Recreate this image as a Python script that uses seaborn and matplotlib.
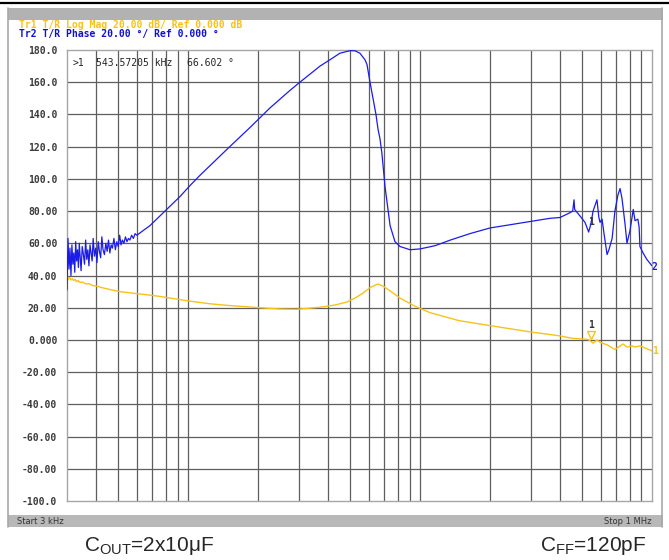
import matplotlib
matplotlib.use("Agg")
import matplotlib.pyplot as plt
import seaborn as sns
import pandas as pd
from matplotlib.patches import Rectangle
from matplotlib.lines import Line2D

# ---- data (frequency in kHz) ----
phase_freq = [3.00, 3.03, 3.06, 3.09, 3.12, 3.15, 3.18, 3.21, 3.24, 3.27,
              3.30, 3.33, 3.36, 3.39, 3.42, 3.45, 3.49, 3.53, 3.57, 3.61,
              3.65, 3.69, 3.73, 3.77, 3.81, 3.85, 3.89, 3.94, 3.99, 4.04,
              4.09, 4.14, 4.19, 4.24, 4.29, 4.35, 4.41, 4.47, 4.53, 4.59,
              4.65, 4.71, 4.78, 4.85, 4.92, 4.99, 5.06, 5.13, 5.20, 5.28,
              5.36, 5.44, 5.52, 5.60, 5.70, 5.80, 5.90, 6.00,
              6.84, 7.55, 8.34, 9.21, 10.2, 11.2, 13.0, 15.1, 18.5,
              22.5, 27.5, 30.3, 33.5, 37.0, 40.9, 45.1, 49.9, 52.4, 55.0,
              57.8, 59.0, 60.8, 62.6, 64.5, 65.8, 67.1, 68.4, 70.6, 72.8,
              74.2, 77.9, 81.9, 90.5, 99.9, 116, 135, 164, 200, 244,
              298, 363, 401, 443, 455, 461, 464, 489, 514, 533,
              545, 557, 579, 590, 597, 609, 621, 640, 652, 673,
              692, 713, 728, 742, 765, 780, 804, 830, 845, 869,
              880, 887, 915, 950, 1000]
phase_deg = [31, 63, 44, 57, 40, 59, 47, 54, 42, 61,
             49, 56, 45, 60, 51, 43, 58, 53, 47, 62,
             50, 56, 46, 59, 54, 49, 63, 52, 57, 48,
             61, 55, 51, 64, 56, 53, 60, 55, 62, 54,
             59, 57, 63, 56, 61, 58, 65, 59, 62, 60,
             64, 61, 63, 62, 65, 63, 66, 65,
             71, 77, 83, 89, 96, 102, 111, 120, 132,
             144, 155, 160, 165, 170, 174, 178, 179.6, 179.5, 178,
             174, 171, 160, 150, 140, 131, 125, 116, 95, 80,
             71, 61, 58, 56, 56.5, 58.5, 62, 66, 69.5, 71.5,
             73.5, 75.5, 76, 79, 80, 87, 81, 77, 73, 67,
             72, 80, 87, 76, 73, 75, 66, 53, 56, 63,
             80, 90, 94, 88, 72, 60, 68, 81, 74, 75,
             70, 58, 54, 50, 46]

mag_freq = [3.00, 3.04, 3.08, 3.12, 3.16, 3.20, 3.25, 3.30, 3.35, 3.40,
            3.50, 3.62, 3.74, 3.86, 4.00, 4.21, 4.44, 4.69, 5.05, 6.84,
            7.55, 9.7, 12.3, 14.6, 20.4, 24.8, 29.3, 37.0, 43.0, 48.5,
            52.4, 56.6, 60.8, 65.7, 69.0, 74.2, 81.9, 94.8, 110, 147,
            192, 298, 401, 453, 514, 533, 557, 579, 597, 640,
            692, 750, 780, 820, 845, 887, 1000]
mag_db = [39.5, 37.5, 38.8, 37.2, 38.0, 36.9, 37.6, 36.2, 36.9, 35.7,
          35.9, 34.8, 34.9, 33.8, 33.5, 32.6, 31.8, 31.0, 30.0, 27.8,
          27.0, 24.5, 22.5, 21.5, 20.0, 19.2, 19.0, 20.3, 21.7, 23.6,
          26.0, 29.0, 32.5, 34.7, 33.5, 30.5, 26.0, 21.0, 17.0, 12.0,
          9.3, 5.0, 2.5, 1.0, 0.5, 0.2, -2.0, 0.0, -1.5, -3.0,
          -6.0, -2.5, -4.4, -3.7, -4.4, -3.7, -6.8]

y_ticks = list(range(180, -101, -20))
y_labels = ["180.0", "160.0", "140.0", "120.0", "100.0", "80.00", "60.00",
            "40.00", "20.00", "0.000", "-20.00", "-40.00", "-60.00",
            "-80.00", "-100.0"]
grid_freq = [4, 5, 6, 7, 8, 9, 10, 20, 30, 40, 50, 60, 70, 80, 90,
             100, 200, 300, 400, 500, 600, 700, 800, 900]

BLUE = "#1c1ce8"
YELLOW = "#f7c21a"
W, H = 669, 560

sns.set_style("white")
plt.rcParams["font.family"] = ["DejaVu Sans"]
plt.rcParams["mathtext.fontset"] = "custom"
plt.rcParams["mathtext.rm"] = "Liberation Sans"

fig = plt.figure(figsize=(W / 100, H / 100), dpi=100)


def px(x, y):
    return x / W, 1 - y / H


# instrument frame decorations
fig.add_artist(Line2D([0, 1], [1 - 2.5 / H] * 2, color="black", lw=1.6))
fig.add_artist(Rectangle(px(8, 20), 655 / W, 12 / H, color="#b2b2b2", lw=0))
fig.add_artist(Rectangle(px(8, 527), 655 / W, 12 / H, color="#b8b8b8", lw=0))
fig.add_artist(Line2D([8 / W] * 2, [1 - 527 / H, 1 - 8 / H], color="#a8a8a8", lw=1.2))
fig.add_artist(Line2D([662 / W] * 2, [1 - 527 / H, 1 - 8 / H], color="#a8a8a8", lw=1.2))

mono = "DejaVu Sans Mono"
fig.text(*px(19, 25), "Tr1 T/R Log Mag 20.00 dB/ Ref 0.000 dB", color=YELLOW,
         family=mono, weight="bold", fontsize=7, va="center")
fig.text(*px(19, 34), "Tr2 T/R Phase 20.00 °/ Ref 0.000 °", color="#1010d0",
         family=mono, weight="bold", fontsize=7, va="center")
fig.text(*px(17, 521), "Start 3 kHz", color="#333333", fontsize=6, va="center")
fig.text(*px(652, 521), "Stop 1 MHz", color="#333333", fontsize=6, va="center", ha="right")

fig.text(*px(84, 546), r"C$_{\mathrm{OUT}}$=2x10μF", family="Liberation Sans",
         fontsize=15, va="center")
fig.text(*px(540, 546), r"C$_{\mathrm{FF}}$=120pF", family="Liberation Sans",
         fontsize=15, va="center")

ax = fig.add_axes([67 / W, 1 - 501 / H, 585 / W, 451 / H])
phase_df = pd.DataFrame({"freq": phase_freq, "phase": phase_deg})
mag_df = pd.DataFrame({"freq": mag_freq, "mag": mag_db})

for f in grid_freq:
    ax.axvline(f, color="#5e5e5e", lw=0.9, zorder=1)
for v in y_ticks[1:-1]:
    ax.axhline(v, color="#5e5e5e", lw=0.9, zorder=1)

sns.lineplot(data=mag_df, x="freq", y="mag", ax=ax, color=YELLOW, lw=1.0,
             sort=False, zorder=3)
sns.lineplot(data=phase_df, x="freq", y="phase", ax=ax, color=BLUE, lw=0.9,
             sort=False, zorder=4)

ax.set_xscale("log")
ax.set_xlim(3, 1000)
ax.set_ylim(-100, 180)
ax.set_xticks([])
ax.set_xticks([], minor=True)
ax.set_yticks(y_ticks)
ax.set_yticklabels(y_labels, family=mono, weight="bold", fontsize=7, color="#3a3a3a")
ax.tick_params(axis="y", length=0, pad=7)
ax.set_xlabel("")
ax.set_ylabel("")
for s in ax.spines.values():
    s.set_color("#a6a6a6")
    s.set_linewidth(1.0)

# marker readout
ax.text(0.009, 0.982, ">1", transform=ax.transAxes, family=mono, fontsize=7, va="top")
ax.text(0.05, 0.982, "543.57205 kHz", transform=ax.transAxes, family=mono, fontsize=7, va="top")
ax.text(0.205, 0.982, "66.602 °", transform=ax.transAxes, family=mono, fontsize=7, va="top")

# trace markers
ax.text(543.57, 70, "1", color="#333333", fontsize=7, weight="bold", ha="center", va="bottom", family=mono)
ax.plot([543.57], [3], marker="v", ms=6, mfc="none", mec=YELLOW, mew=1.0)
ax.text(543.57, 6, "1", color="#333333", fontsize=7, weight="bold", ha="center", va="bottom", family=mono)
ax.text(1000, 45, "2", color=BLUE, fontsize=7, weight="bold", ha="left", va="center", family=mono, clip_on=False)
ax.text(1000, -6.8, "1", color=YELLOW, fontsize=7, weight="bold", ha="left", va="center", family=mono, clip_on=False)

fig.savefig("out.png", dpi=100)
